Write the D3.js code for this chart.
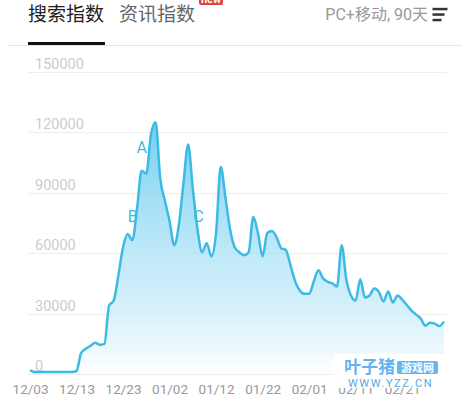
<!DOCTYPE html>
<meta charset="utf-8">
<style>
body { margin: 0; background: #fff; }
svg { font-family: Roboto, "Noto Sans CJK SC", sans-serif; }
.grid line { stroke: #eeeeee; shape-rendering: crispEdges; }
.ylab { font-size: 14.5px; fill: #cccccc; }
.axis--x path, .axis--x line { display: none; }
.axis--x text { font-size: 13.5px; fill: #999; font-family: Roboto, sans-serif; }
.area { fill: url(#fillGrad); }
.line { fill: none; stroke: #3bbbe4; stroke-width: 2.5px; stroke-linejoin: round; }
.anno { font-size: 16px; fill: #3bbbe4; text-anchor: middle; }
</style>
<body>
<div id="chart"></div>
<script src="https://d3js.org/d3.v7.min.js"></script>
<script>
// 90 days, one value a day starting 12/03
var startDay = "2018-12-03";
var values = [
  1800, 1000, 1000, 1000, 1000, 1000, 1000, 1000, 1000, 1000,
  1500, 10500, 12500, 14000, 15500, 14500, 15000, 34000, 36500, 49000,
  63000, 69500, 66500, 82000, 101000, 99500, 119000, 125000, 97000, 86000,
  76000, 64000, 74000, 95000, 114000, 92000, 72000, 60500, 65000, 58500,
  70000, 103000, 88000, 72000, 63000, 60500, 59000, 60500, 78000, 70000,
  58500, 70000, 71000, 68000, 62500, 61600, 54000, 46000, 41500, 39800,
  39800, 46000, 51500, 47500, 45800, 45000, 43400, 64000, 47000, 39000,
  36500, 47000, 38000, 39000, 42500, 40800, 36000, 41000, 35500, 39000,
  37000, 34300, 31500, 29500, 27500, 24000, 25500, 25000, 23800, 26000
];
var yTicks = [0, 30000, 60000, 90000, 120000, 150000];
var yTickLabels = ["0", "30000", "60000", "90000", "120000", "150000"];
var xTickLabels = ["12/03", "12/13", "12/23", "01/02", "01/12", "01/22", "02/01", "02/11", "02/21"];
var annoLabels = ["A", "B", "C"];
var annoDays = [24, 21, 36];

var width = 462, height = 400;
var parseDay = d3.timeParse("%Y-%m-%d");
var t0 = parseDay(startDay);
var data = values.map(function(v, i) { return { date: d3.timeDay.offset(t0, i), value: v }; });

var x = d3.scaleTime()
    .domain([data[0].date, data[data.length - 1].date])
    .range([30, 444]);
var y = d3.scaleLinear().domain([0, 150000]).range([374, 72]);

var svg = d3.select("#chart").append("svg")
    .attr("width", width)
    .attr("height", height);

// header tabs
svg.append("text").attr("x", 28).attr("y", 21)
    .style("font-size", "19px").style("fill", "#222").text("搜索指数");
svg.append("text").attr("x", 119).attr("y", 21)
    .style("font-size", "19px").style("fill", "#666").text("资讯指数");
svg.append("rect").attr("x", 199).attr("y", -7).attr("width", 24).attr("height", 12)
    .attr("rx", 2).style("fill", "#e5403a");
svg.append("text").attr("x", 211).attr("y", 3).attr("text-anchor", "middle")
    .style("font-size", "11px").style("font-weight", "bold").style("fill", "#fff").text("new");
svg.append("text").attr("x", 428).attr("y", 20).attr("text-anchor", "end")
    .style("font-size", "16px").style("fill", "#999").text("PC+移动, 90天");
[[9, 15], [14.5, 12], [20, 9]].forEach(function(m) {
    svg.append("rect").attr("x", 432.5).attr("y", m[0] - 1.2).attr("width", m[1]).attr("height", 2.5)
        .style("fill", "#333");
});
svg.append("line").attr("x1", 7).attr("x2", 462).attr("y1", 45.5).attr("y2", 45.5)
    .style("stroke", "#e6e6e6");
svg.append("rect").attr("x", 28).attr("y", 42).attr("width", 77).attr("height", 3)
    .style("fill", "#111");

// gradient fill
var defs = svg.append("defs");
var grad = defs.append("linearGradient").attr("id", "fillGrad")
    .attr("x1", 0).attr("y1", 0).attr("x2", 0).attr("y2", 1);
grad.append("stop").attr("offset", "0%").attr("stop-color", "#5cc8ef").attr("stop-opacity", 0.85);
grad.append("stop").attr("offset", "55%").attr("stop-color", "#a9e1f6").attr("stop-opacity", 0.7);
grad.append("stop").attr("offset", "100%").attr("stop-color", "#ffffff").attr("stop-opacity", 1);

// grid + y labels
var grid = svg.append("g").attr("class", "grid");
grid.selectAll("line").data(yTicks).enter().append("line")
    .attr("x1", 28).attr("x2", 447)
    .attr("y1", function(d) { return Math.round(y(d)) + 0.5; })
    .attr("y2", function(d) { return Math.round(y(d)) + 0.5; });

var area = d3.area()
    .x(function(d) { return x(d.date); })
    .y0(y(0))
    .y1(function(d) { return y(d.value); })
    .curve(d3.curveMonotoneX);
var line = d3.line()
    .x(function(d) { return x(d.date); })
    .y(function(d) { return y(d.value); })
    .curve(d3.curveMonotoneX);

svg.append("path").datum(data).attr("class", "area").attr("d", area);

svg.selectAll(".ylab").data(yTicks).enter().append("text")
    .attr("class", "ylab")
    .attr("x", 35)
    .attr("y", function(d) { return y(d) - 3; })
    .text(function(d, i) { return yTickLabels[i]; });

svg.append("path").datum(data).attr("class", "line").attr("d", line);

// annotations
var annoOffset = [[0, -18], [5, -12], [1, -7]];
annoLabels.forEach(function(l, i) {
    var d = data[annoDays[i]];
    svg.append("text").attr("class", "anno")
        .attr("x", x(d.date) + annoOffset[i][0])
        .attr("y", y(d.value) + annoOffset[i][1])
        .text(l);
});

// x axis
var xTickDates = xTickLabels.map(function(l, i) { return data[i * 10].date; });
svg.append("g").attr("class", "axis axis--x")
    .attr("transform", "translate(0,381)")
    .call(d3.axisBottom(x).tickValues(xTickDates).tickSize(0)
        .tickFormat(function(d, i) { return xTickLabels[i]; }));

// watermark
var wm = svg.append("g");
wm.append("rect").attr("x", 333).attr("y", 354).attr("width", 113).attr("height", 34)
    .style("fill", "#fff").style("opacity", 0.92);
wm.append("text").attr("x", 344).attr("y", 373)
    .style("font-size", "17px").style("font-weight", "bold").style("fill", "#62b3f0").text("叶子猪");
wm.append("rect").attr("x", 397).attr("y", 361).attr("width", 41).attr("height", 13).attr("rx", 2)
    .style("fill", "#6ab4ef");
wm.append("text").attr("x", 417.5).attr("y", 372).attr("text-anchor", "middle")
    .style("font-size", "11px").style("font-weight", "bold").style("fill", "#fff").text("游戏网");
wm.append("text").attr("x", 348).attr("y", 387)
    .style("font-size", "11px").style("letter-spacing", "1.6px").style("fill", "#5aa5e8").text("WWW.YZZ.CN");
</script>
</body>
